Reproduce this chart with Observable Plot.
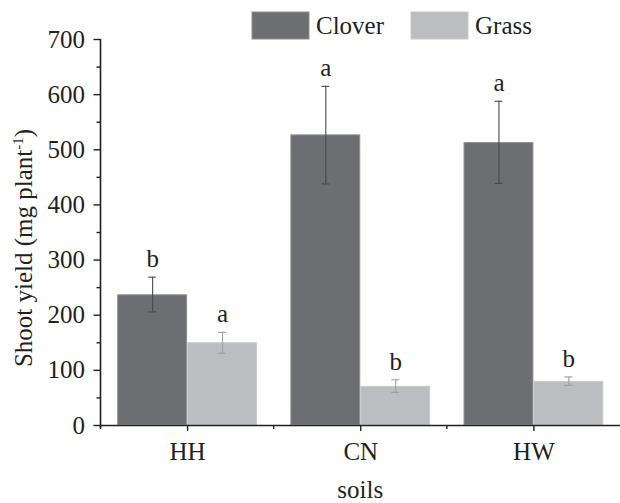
<!DOCTYPE html>
<html>
<head>
<meta charset="utf-8">
<script src="https://cdn.jsdelivr.net/npm/d3@7"></script>
<script src="https://cdn.jsdelivr.net/npm/@observablehq/plot@0.6"></script>
<style>
  html, body { margin: 0; padding: 0; background: #fff; }
  #chart { width: 620px; height: 503px; }
</style>
</head>
<body>
<div id="chart"></div>
<script>
const soils = ["HH", "CN", "HW"];
const species = ["Clover", "Grass"];
const cloverMean = [237, 527, 513];
const cloverLow = [206, 438, 439];
const cloverHigh = [269, 615, 588];
const cloverLetters = ["b", "a", "a"];
const grassMean = [150, 71, 80];
const grassLow = [131, 60, 73];
const grassHigh = [169, 83, 88];
const grassLetters = ["a", "b", "b"];
const yTicks = [0, 100, 200, 300, 400, 500, 600, 700];
const yMinorTicks = [50, 150, 250, 350, 450, 550, 650];
const fillColors = ["#6d6e72", "#bcbdc0"];
const errColors = ["#4a4a4c", "#9c9da0"];
const xLabel = "soils";
const yLabel = "Shoot yield (mg plant";
const yLabelSup = "-1";

const data = [];
soils.forEach((s, i) => {
  data.push({soil: s, species: "Clover", mean: cloverMean[i], low: cloverLow[i], high: cloverHigh[i], letter: cloverLetters[i]});
  data.push({soil: s, species: "Grass", mean: grassMean[i], low: grassLow[i], high: grassHigh[i], letter: grassLetters[i]});
});

const font = "'Liberation Serif', 'Times New Roman', Times, serif";
const ink = "#231f20";
const errColor = d => errColors[species.indexOf(d.species)];

const plot = Plot.plot({
  width: 620,
  height: 503,
  marginLeft: 100.5,
  marginRight: 0,
  marginTop: 39,
  marginBottom: 78,
  style: {fontFamily: font, fontSize: "25px", color: ink, background: "#fff", overflow: "visible"},
  fx: {domain: soils, padding: 0, label: null, round: false, axis: null},
  x: {domain: species, paddingInner: 0, paddingOuter: 0.239, axis: null, round: false},
  y: {domain: [0, 700], label: null},
  color: {domain: species, range: fillColors},
  marks: [
    Plot.barY(data, {fx: "soil", x: "species", y: "mean", fill: "species",
      stroke: d => d.species === "Clover" ? "#8e8f93" : "#c9cacd", strokeWidth: 1, inset: 0.5}),
    Plot.ruleX(data, {fx: "soil", x: "species", y1: "low", y2: "high", stroke: errColor, strokeWidth: 1.1}),
    Plot.tickY(data, {fx: "soil", x: "species", y: "low", inset: 31, stroke: errColor, strokeWidth: 1.1}),
    Plot.tickY(data, {fx: "soil", x: "species", y: "high", inset: 31, stroke: errColor, strokeWidth: 1.1}),
    Plot.text(data, {fx: "soil", x: "species", y: "high", text: "letter", dy: -10, lineAnchor: "bottom",
      fontSize: 25, fill: ink}),
    Plot.ruleY([0], {stroke: ink, strokeWidth: 1.6}),
    Plot.axisY(yTicks, {tickSize: 7, tickPadding: 9, label: null, fontSize: 25, stroke: ink, strokeWidth: 1.4, fill: ink}),
    Plot.axisY(yMinorTicks, {tickSize: 4, text: null, label: null, stroke: ink, strokeWidth: 1.4}),
    Plot.axisFx({anchor: "bottom", tickSize: 6, tickPadding: 11, label: null, fontSize: 25, stroke: ink, strokeWidth: 1.4, fill: ink})
  ]
});

document.getElementById("chart").appendChild(plot);

// Decorations computed from the plot's own scales
const svg = d3.select(plot);
const ys = plot.scale("y");
const fxs = plot.scale("fx");
const y0 = ys.apply(0), yTop = ys.apply(700);
const left = fxs.apply(soils[0]);
const bw = fxs.bandwidth;

// y axis line
svg.append("line")
  .attr("x1", left).attr("x2", left)
  .attr("y1", yTop).attr("y2", y0 + 3)
  .attr("stroke", ink).attr("stroke-width", 1.6);

// minor x ticks at facet boundaries
soils.forEach(s => {
  const bx = fxs.apply(s);
  svg.append("line")
    .attr("x1", bx).attr("x2", bx)
    .attr("y1", y0).attr("y2", y0 + 4)
    .attr("stroke", ink).attr("stroke-width", 1.4);
});

// x axis title
const xMid = left + bw * soils.length / 2;
svg.append("text")
  .attr("x", xMid).attr("y", y0 + 73)
  .attr("text-anchor", "middle")
  .attr("font-family", font).attr("font-size", 25).attr("fill", ink)
  .text(xLabel);

// y axis title with superscript
const yt = svg.append("text")
  .attr("transform", `translate(32, ${(y0 + yTop) / 2 + 16}) rotate(-90)`)
  .attr("text-anchor", "middle")
  .attr("font-family", font).attr("font-size", 25).attr("fill", ink);
yt.append("tspan").text(yLabel);
yt.append("tspan").attr("dy", -9).attr("font-size", 15).text(yLabelSup);
yt.append("tspan").attr("dy", 9).text(")");

// legend
const colorScale = plot.scale("color");
const legendX = [252, 411];
species.forEach((sp, i) => {
  const g = svg.append("g");
  g.append("rect")
    .attr("x", legendX[i]).attr("y", 12).attr("width", 57).attr("height", 27)
    .attr("fill", colorScale.range[i])
    .attr("stroke", i === 0 ? "#8e8f93" : "#c9cacd").attr("stroke-width", 1);
  g.append("text")
    .attr("x", legendX[i] + 64).attr("y", 34)
    .attr("text-anchor", "start")
    .attr("font-family", font).attr("font-size", 25).attr("fill", ink)
    .text(sp);
});
</script>
</body>
</html>
